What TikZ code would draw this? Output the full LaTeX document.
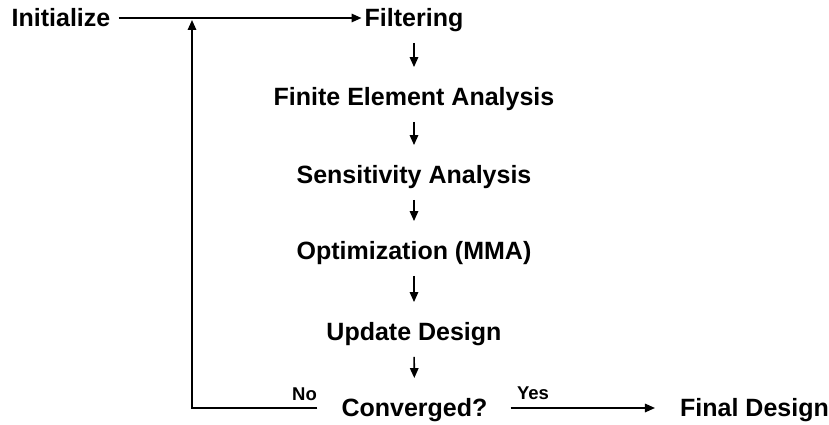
\documentclass[tikz,border=0pt]{standalone}
\usepackage{fontspec}
\setmainfont{Liberation Sans}
\usetikzlibrary{arrows.meta}
\begin{document}
\begin{tikzpicture}[x=1pt,y=-1pt,
  stepbox/.style={inner sep=0pt, text height=17.5pt, text depth=0pt,
    font=\fontsize{25}{28}\selectfont\bfseries},
  lbl/.style={inner sep=0pt, font=\fontsize{18.5}{21}\selectfont\bfseries},
  arr/.style={line width=1.6pt, -{Triangle[length=10pt,width=8.5pt]}},
  varr/.style={arr, shorten <=16pt, shorten >=21pt}]
\useasboundingbox (0,0) rectangle (829,425);
\node[stepbox] (init) at (61,18) {Initialize};
\node[stepbox] (filt) at (414,18) {Filtering};
\node[stepbox] (fea) at (414,97) {Finite Element Analysis};
\node[stepbox] (sens) at (414,175) {Sensitivity Analysis};
\node[stepbox] (opt) at (414,251) {Optimization (MMA)};
\node[stepbox] (upd) at (414,332) {Update Design};
\node[stepbox] (conv) at (414.5,408) {Converged?};
\node[stepbox] (final) at (754.5,408) {Final Design};
\node[lbl] (no) at (304.5,394) {No};
\node[lbl] (yes) at (533,393) {Yes};
\coordinate (join) at (192,20);
\draw[arr, shorten <=8pt, shorten >=3pt] (init.east) -- (filt.west);
\draw[varr] (filt.south) -- (fea.north);
\draw[varr] (fea.south) -- (sens.north);
\draw[varr] (sens.south) -- (opt.north);
\draw[varr] (opt.south) -- (upd.north);
\draw[varr] (upd.south) -- (conv.north);
\draw[arr, shorten <=23pt, shorten >=25pt] (conv.east) -- (final.west);
\draw[arr, shorten <=24pt] (conv.west) -| (join);
\end{tikzpicture}
\end{document}
